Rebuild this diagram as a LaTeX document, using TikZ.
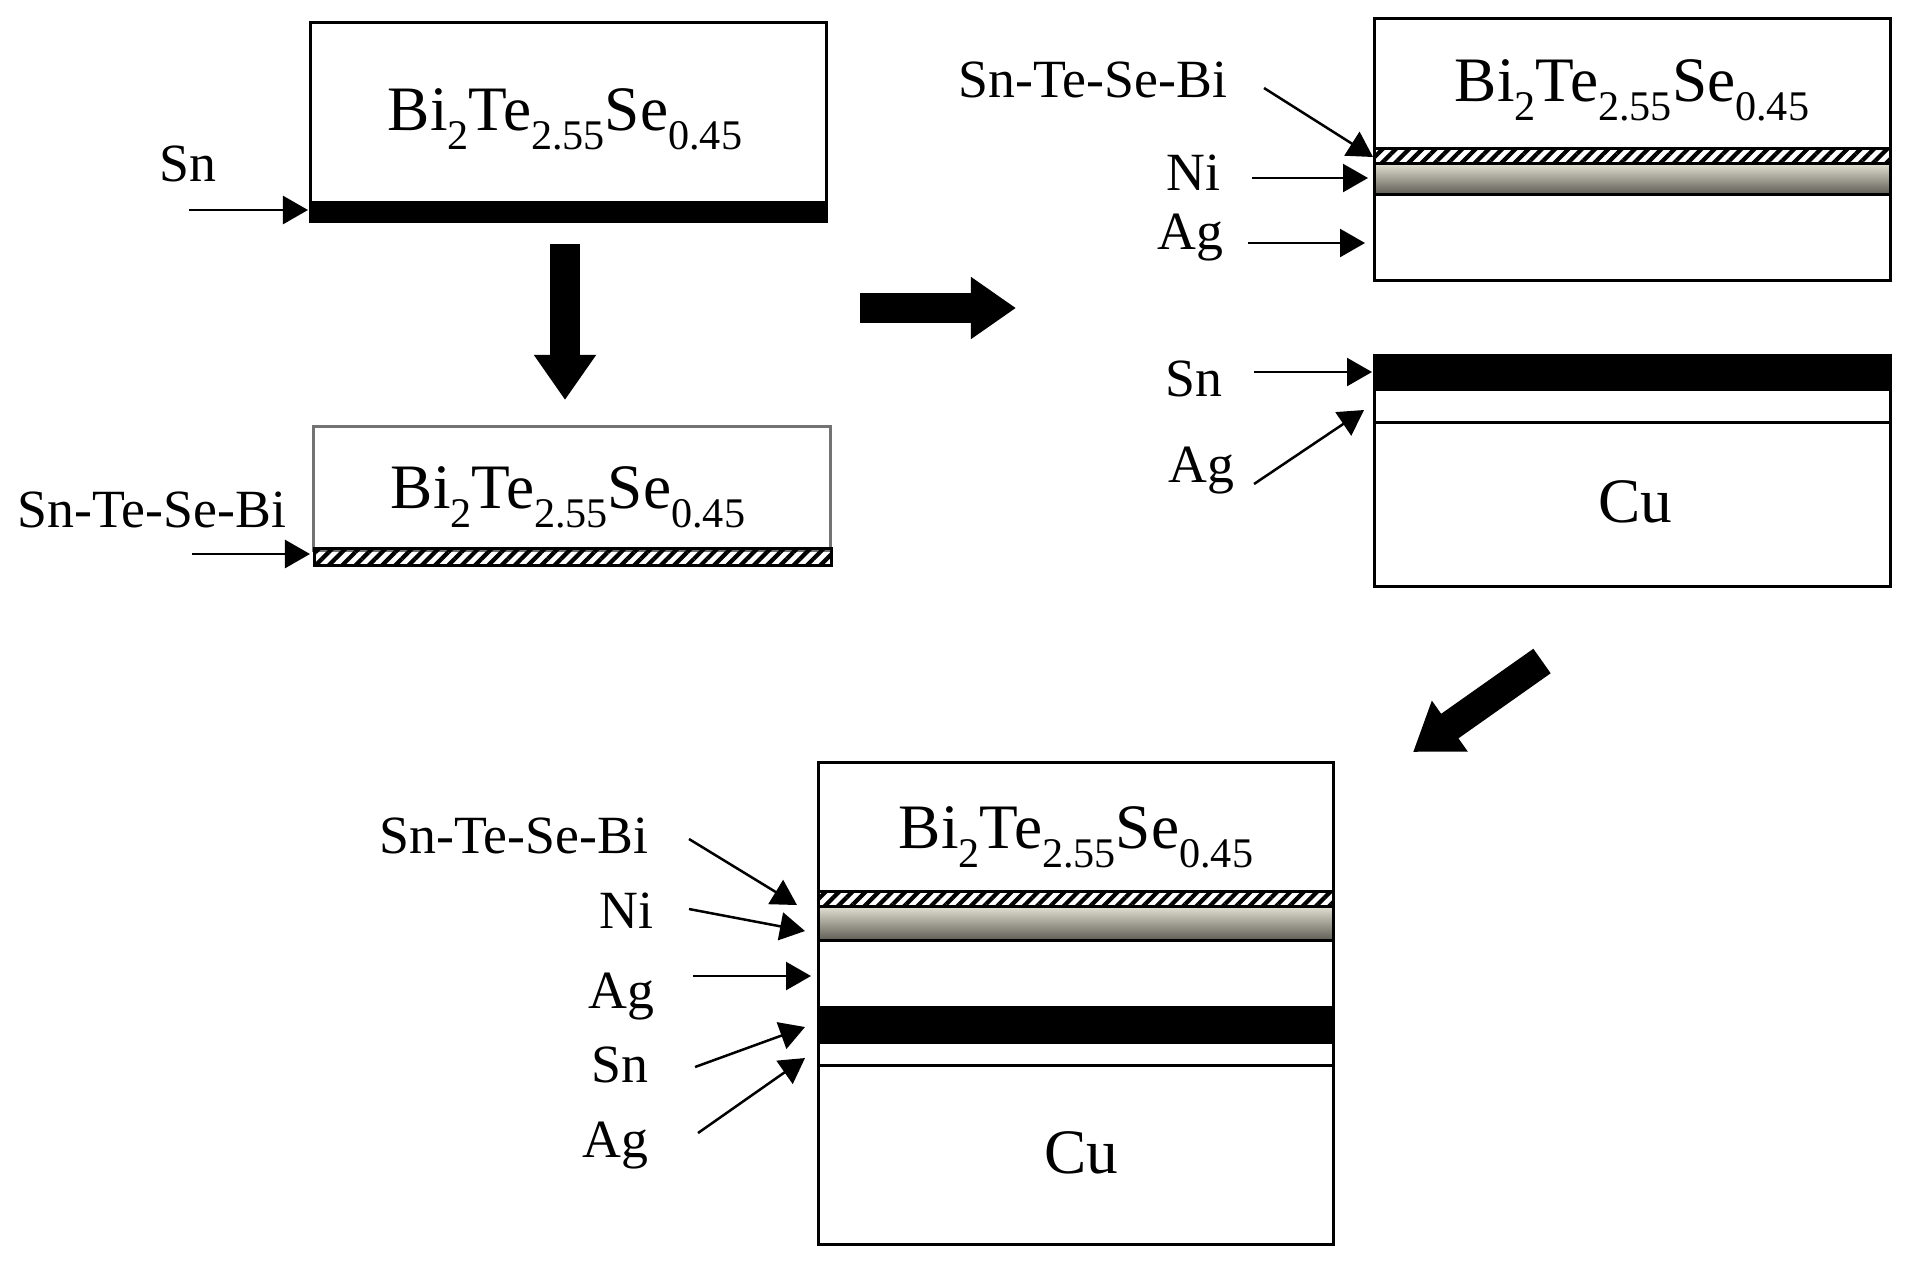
\documentclass[tikz,border=0pt]{standalone}
\usepackage{fontspec}
\setmainfont{Liberation Serif}
\usetikzlibrary{arrows.meta, patterns.meta}

\definecolor{niTop}{HTML}{E4E2D4}
\definecolor{niBot}{HTML}{5F5E55}

\newcommand{\lowsub}[1]{\raisebox{-0.31em}{\fontsize{12}{12}\selectfont #1}}
\newcommand{\formula}{Bi\lowsub{2}Te\lowsub{2.55}Se\lowsub{0.45}}

\tikzset{
    layer/.style={draw=black, line width=0.03cm, anchor=north west, inner sep=0pt, outer sep=0pt, minimum width=#1},
    snlayer/.style={layer=#1, fill=black},
    hatchlayer/.style={layer=#1, pattern={Lines[angle=45, distance=2.67pt, line width=1.2pt]}},
    nilayer/.style={layer=#1, top color=niTop, bottom color=niBot, shading angle=0},
    big/.style={font=\fontsize{18}{20}\selectfont},
    small/.style={font=\fontsize{15.3}{17}\selectfont, inner sep=0pt},
    lead/.style={line width=0.025cm, -{Triangle[length=0.25cm, width=0.28cm]}},
    bigarrow/.style={line width=0.30cm, -{Triangle[length=0.45cm, width=0.59cm]}}
}

\begin{document}
\begin{tikzpicture}[x=0.01cm, y=-0.01cm]
        \useasboundingbox (0,0) rectangle (1913,1266);

        \def\wA{5.16cm}
        \def\wB{5.17cm}
        \def\wC{5.16cm}
        \def\wE{5.15cm}

        \node[layer=\wA, minimum height=1.99cm] (boxA) at (310,22) {};
        \node[snlayer=\wA, minimum height=0.18cm] (snA) at (310,202) {};
        \node[big, anchor=base] (formulaA) at (565,130) {\formula};
        \node[small, anchor=base] (labelSnA) at (188,181) {Sn};
        \coordinate (tailSnA) at (189,210);
        \coordinate (tipSnA) at (308,210);
        \draw[lead] (tailSnA) -- (tipSnA);

        \coordinate (downTop) at (565,244);
        \coordinate (downTip) at (565,400);
        \draw[bigarrow] (downTop) -- (downTip);

        \node[layer=\wB, draw=black!55, minimum height=1.24cm] (boxB) at (313,426) {};
        \node[hatchlayer=\wB, minimum height=0.17cm] (hatchB) at (314,548) {};
        \node[big, anchor=base] (formulaB) at (568,508) {\formula};
        \node[small, anchor=base west] (labelHatchB) at (17,527) {Sn-Te-Se-Bi};
        \coordinate (tailHatchB) at (192,554);
        \coordinate (tipHatchB) at (310,554);
        \draw[lead] (tailHatchB) -- (tipHatchB);

        \coordinate (rightTail) at (860,308);
        \coordinate (rightTip) at (1016,308);
        \draw[bigarrow] (rightTail) -- (rightTip);

        \node[layer=\wC, minimum height=2.62cm] (boxC) at (1374,18) {};
        \node[hatchlayer=\wC, minimum height=0.15cm] (hatchC) at (1374,148) {};
        \node[nilayer=\wC, minimum height=0.31cm] (niC) at (1374,163) {};
        \node[big, anchor=base] (formulaC) at (1632,101) {\formula};
        \node[small, anchor=base west] (labelHatchC) at (958,97) {Sn-Te-Se-Bi};
        \node[small, anchor=base east] (labelNiC) at (1221,190) {Ni};
        \node[small, anchor=base east] (labelAgC) at (1224,249) {Ag};
        \coordinate (tailHatchC) at (1264,88);
        \coordinate (tipHatchC) at (1373,157);
        \coordinate (tailNiC) at (1252,178);
        \coordinate (tipNiC) at (1368,178);
        \coordinate (tailAgC) at (1248,243);
        \coordinate (tipAgC) at (1365,243);
        \draw[lead] (tailHatchC) -- (tipHatchC);
        \draw[lead] (tailNiC) -- (tipNiC);
        \draw[lead] (tailAgC) -- (tipAgC);

        \node[snlayer=\wC, minimum height=0.34cm] (snD) at (1374,355) {};
        \node[layer=\wC, minimum height=0.33cm] (agD) at (1374,389) {};
        \node[layer=\wC, big, minimum height=1.64cm] (cuD) at (1374,422) {\raisebox{0.06cm}{\hspace{0.07cm}Cu}};
        \node[small, anchor=base east] (labelSnD) at (1223,396) {Sn};
        \node[small, anchor=base east] (labelAgD) at (1235,482) {Ag};
        \coordinate (tailSnD) at (1254,372);
        \coordinate (tipSnD) at (1372,372);
        \coordinate (tailAgD) at (1254,484);
        \coordinate (tipAgD) at (1364,410);
        \draw[lead] (tailSnD) -- (tipSnD);
        \draw[lead] (tailAgD) -- (tipAgD);

        \coordinate (diagTail) at (1542,661);
        \coordinate (diagTip) at (1413,752);
        \draw[bigarrow] (diagTail) -- (diagTip);

        \node[layer=\wE, minimum height=4.82cm] (boxE) at (818,762) {};
        \node[hatchlayer=\wE, minimum height=0.15cm] (hatchE) at (818,891) {};
        \node[nilayer=\wE, minimum height=0.34cm] (niE) at (818,906) {};
        \node[snlayer=\wE, minimum height=0.35cm] (snE) at (818,1007) {};
        \node[layer=\wE, big, minimum height=1.79cm] (cuE) at (818,1065) {\raisebox{0.04cm}{\hspace{0.12cm}Cu}};
        \node[big, anchor=base] (formulaE) at (1076,848) {\formula};
        \node[small, anchor=base west] (labelHatchE) at (379,853) {Sn-Te-Se-Bi};
        \node[small, anchor=base east] (labelNiE) at (654,928) {Ni};
        \node[small, anchor=base east] (labelAgE) at (655,1008) {Ag};
        \node[small, anchor=base east] (labelSnE) at (649,1082) {Sn};
        \node[small, anchor=base east] (labelCuAgE) at (649,1157) {Ag};
        \coordinate (tailHatchE) at (689,839);
        \coordinate (tipHatchE) at (797,905);
        \coordinate (tailNiE) at (689,909);
        \coordinate (tipNiE) at (805,931);
        \coordinate (tailAgE) at (693,976);
        \coordinate (tipAgE) at (811,976);
        \coordinate (tailSnE) at (695,1067);
        \coordinate (tipSnE) at (805,1027);
        \coordinate (tailCuAgE) at (698,1133);
        \coordinate (tipCuAgE) at (805,1058);
        \draw[lead] (tailHatchE) -- (tipHatchE);
        \draw[lead] (tailNiE) -- (tipNiE);
        \draw[lead] (tailAgE) -- (tipAgE);
        \draw[lead] (tailSnE) -- (tipSnE);
        \draw[lead] (tailCuAgE) -- (tipCuAgE);
    \end{tikzpicture}
\end{document}
